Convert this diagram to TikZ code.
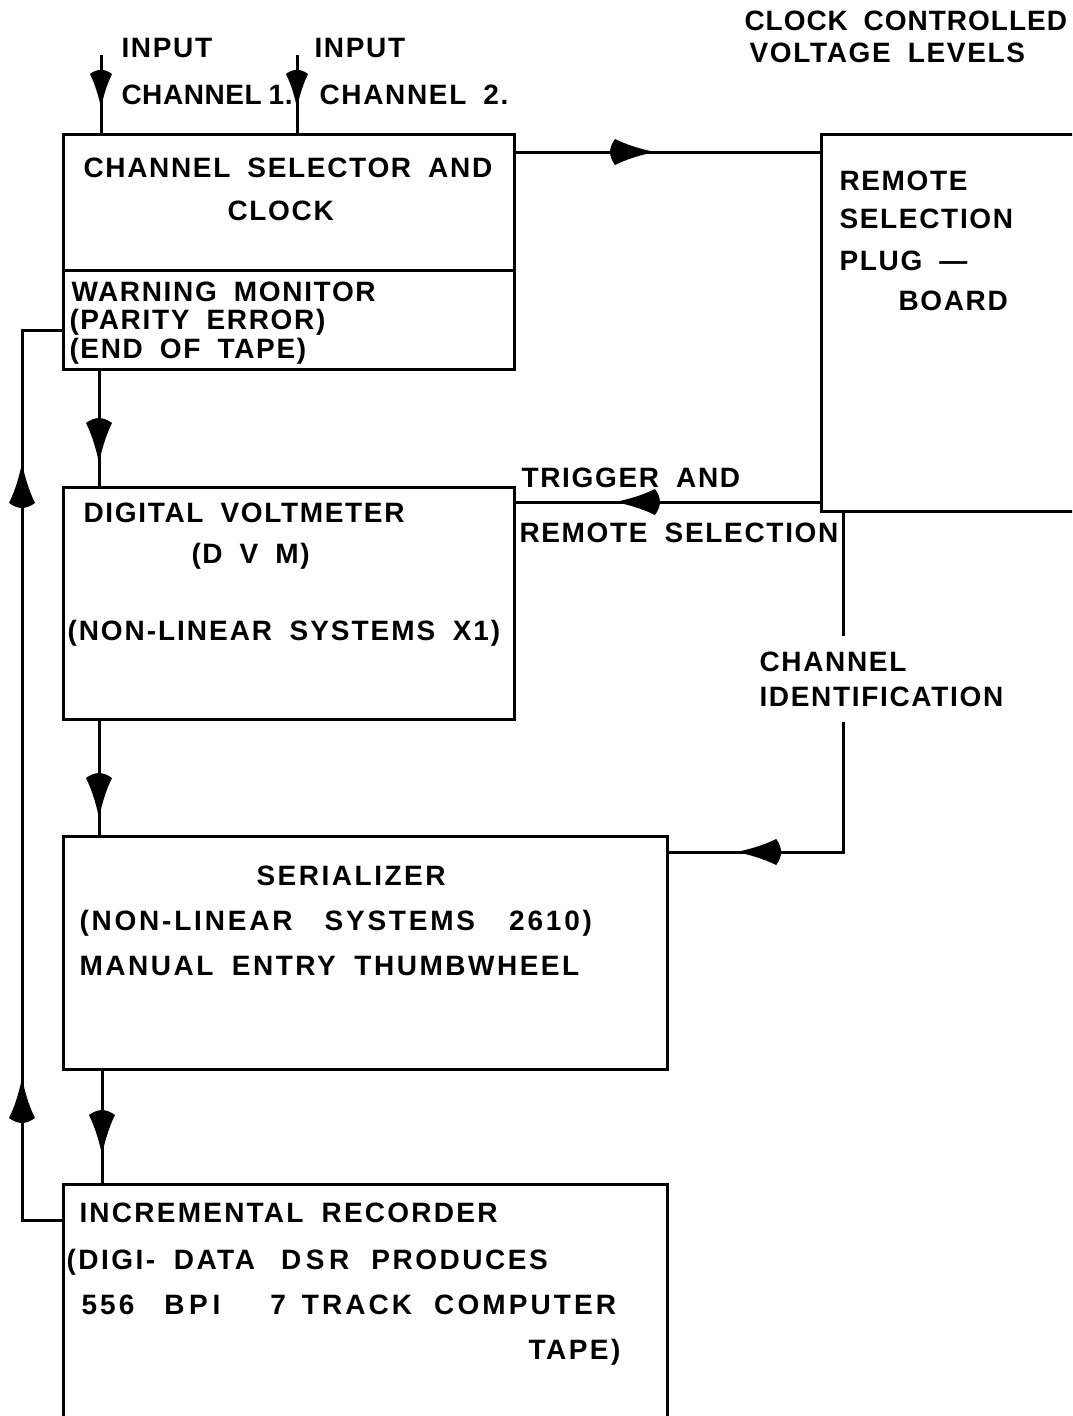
\documentclass[tikz,border=0pt]{standalone}
\usepackage{fontspec}
\setmainfont{Liberation Sans}[LetterSpace=6,WordSpace=1.8]
\usetikzlibrary{decorations.markings}

% drafting style arrow head, tip at the origin
\newcommand{\flowtip}[1][1]{\fill[scale=#1] (0pt,0pt) .. controls (-10pt,2pt) and (-26pt,6pt) .. (-40pt,13pt) .. controls (-43pt,9pt) and (-45pt,4pt) .. (-45pt,0pt) .. controls (-45pt,-4pt) and (-43pt,-9pt) .. (-40pt,-13pt) .. controls (-26pt,-6pt) and (-10pt,-2pt) .. (0pt,0pt);}

\tikzset{
  blk/.style={draw,line width=3pt,inner sep=0pt,anchor=north west},
  lbl/.style={anchor=base west,inner sep=0pt,font=\bfseries\fontsize{28}{35}\selectfont},
  flow/.style={postaction={decorate},decoration={markings,mark=at position #1 with {\flowtip}}},
  inflow/.style={postaction={decorate},decoration={markings,mark=at position #1 with {\flowtip[0.85]}}}
}

\begin{document}
\begin{tikzpicture}[x=1pt,y=-1pt,line width=3pt]
\useasboundingbox (0,0) rectangle (1072,1416);
\clip (0,0) rectangle (1072,1416);

% blocks
\node[blk,minimum width=451pt,minimum height=235pt] (sel) at (62,133) {};
\node[blk,minimum width=300pt,minimum height=377pt] (plug) at (820,133) {};
\node[blk,minimum width=451pt,minimum height=232pt] (dvm) at (62,486) {};
\node[blk,minimum width=604pt,minimum height=233pt] (ser) at (62,835) {};
\node[blk,minimum width=604pt,minimum height=260pt] (rec) at (62,1183) {};
\coordinate (div) at (0,270);
\draw (sel.west |- div) -- (sel.east |- div);

% texts
\node[lbl] (in1t) at (120,57) {INPUT};
\node[lbl] (ch1t) at (120,104) {\addfontfeature{LetterSpace=2}CHANNEL\hspace{7pt}1.};
\node[lbl] (in2t) at (313,57) {INPUT};
\node[lbl] (ch2t) at (318,104) {CHANNEL 2.};
\node[lbl] (cclt) at (743,30) {\addfontfeature{LetterSpace=3.5}CLOCK CONTROLLED};
\node[lbl] (vlvt) at (748,62) {VOLTAGE LEVELS};

\node[lbl] (selt) at (82,177) {CHANNEL SELECTOR AND};
\node[lbl] (clkt) at (226,220) {CLOCK};
\node[lbl] (wrnt) at (70,301) {WARNING MONITOR};
\node[lbl] (part) at (68,329) {(PARITY ERROR)};
\node[lbl] (eott) at (68,358) {(END OF TAPE)};

\node[lbl] (pl1) at (838,190) {REMOTE};
\node[lbl] (pl2) at (838,228) {SELECTION};
\node[lbl] (pl3) at (838,270) {PLUG ---};
\node[lbl] (pl4) at (897,310) {BOARD};

\node[lbl] (trgt) at (520,487) {TRIGGER AND};
\node[lbl] (rmst) at (518,542) {REMOTE SELECTION};

\node[lbl] (dv1) at (82,522) {DIGITAL VOLTMETER};
\node[lbl] (dv2) at (190,563) {(D V M)};
\node[lbl] (dv3) at (66,640) {\addfontfeature{LetterSpace=7}(NON-LINEAR SYSTEMS X1)};

\node[lbl,align=left,anchor=north west,inner xsep=0pt,inner ysep=14pt] (chid) at (758,636) {CHANNEL\\IDENTIFICATION};

\node[lbl] (se1) at (255,885) {\addfontfeature{LetterSpace=9}SERIALIZER};
\node[lbl] (se2) at (78,930) {\addfontfeature{LetterSpace=10}(NON-LINEAR\hspace{32pt}SYSTEMS\hspace{34pt}2610)};
\node[lbl] (se3) at (78,975) {\addfontfeature{LetterSpace=9}MANUAL ENTRY THUMBWHEEL};

\node[lbl] (re1) at (78,1222) {\addfontfeature{LetterSpace=8}INCREMENTAL RECORDER};
\node[lbl] (re2) at (65,1269) {\addfontfeature{LetterSpace=9}(DIGI- DATA\hspace{26pt}D\,S\,R\hspace{22pt}PRODUCES};
\node[lbl] (re3) at (80,1314) {\addfontfeature{LetterSpace=11}556\hspace{30pt}B\,P\,I\hspace{50pt}7\hspace{16pt}TRACK\hspace{22pt}COMPUTER};
\node[lbl] (re4) at (527,1359) {\addfontfeature{LetterSpace=9}TAPE)};

% connectors
\coordinate (in1) at (101,55);
\coordinate (in2) at (297,55);
\draw[inflow=53pt] (in1) -- (in1 |- sel.north);
\draw[inflow=53pt] (in2) -- (in2 |- sel.north);

\coordinate (clk) at (513,152);
\draw[flow=142pt] (clk) -- (clk -| plug.west);

\coordinate (vx1) at (99,0);
\coordinate (vx2) at (99,0);
\coordinate (vx3) at (102,0);
\draw[flow=92pt] (sel.south -| vx1) -- (dvm.north -| vx1);
\draw[flow=97pt] (dvm.south -| vx2) -- (ser.north -| vx2);
\draw[flow=84pt] (ser.south -| vx3) -- (rec.north -| vx3);

\coordinate (trg) at (820,502);
\draw[flow=205pt] (trg) -- (trg -| dvm.east);

\coordinate (chx) at (843,0);
\coordinate (sid) at (666,852);
\draw (plug.south -| chx) -- (chx |- chid.north);
\draw[flow=237pt] (chx |- chid.south) |- (sid);

\coordinate (fb) at (22,0);
\coordinate (rfb) at (62,1220);
\coordinate (sfb) at (62,330);
\draw[postaction={decorate},decoration={markings,
  mark=at position 182pt with {\flowtip},
  mark=at position 797pt with {\flowtip}}]
  (rfb) -| (fb |- sfb) -- (sfb);
\end{tikzpicture}
\end{document}
